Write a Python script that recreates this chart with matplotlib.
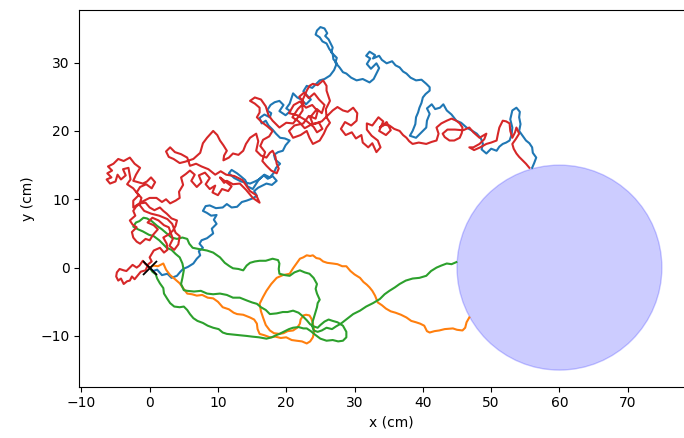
import numpy as np
import matplotlib
matplotlib.use("Agg")
import matplotlib.pyplot as plt

# target disc
circle_center = (60, 0)
circle_radius = 15

# hand-traced trajectories (x, y) in cm
blue_path = np.array([
    [0, 0], [0.5, -0.5], [1.1, -0.3], [1.8, -1.1], [2.6, -0.9], [3.2, -1.5], [4.0, -1.2], [4.5, -0.6],
    [4.9, -0.2], [5.6, 0.1], [6.4, 0.6], [6.9, 1.3], [7.4, 1.8], [7.2, 2.4], [7.8, 2.9], [7.3, 3.5],
    [7.6, 4.0], [8.4, 4.3], [9.3, 5.0], [9.1, 5.7], [9.8, 6.4], [9.4, 7.0], [9.8, 7.7], [9.0, 7.6],
    [8.4, 8.0], [7.8, 8.3], [8.2, 9.0], [8.8, 9.1], [9.7, 8.7], [10.7, 8.8], [11.3, 9.3], [12.0, 8.8],
    [12.8, 8.9], [13.5, 9.6], [14.2, 9.8], [15.0, 10.1], [15.7, 10.5], [15.3, 11.2], [15.9, 11.7],
    [16.5, 12.0], [17.1, 12.3], [17.9, 12.1], [18.6, 12.7], [18.0, 13.4], [17.3, 13.0], [16.7, 13.5],
    [16.0, 12.9], [15.1, 11.5], [14.3, 11.9], [14.0, 12.8], [13.3, 13.4], [12.8, 13.8], [12.0, 14.3],
    [11.6, 13.8], [12.4, 13.1], [13.4, 12.6], [14.7, 12.3], [15.4, 12.6], [16.0, 12.9], [16.8, 13.6],
    [17.6, 13.2], [18.2, 13.9], [18.5, 14.6], [19.1, 15.2], [18.4, 15.8], [18.2, 16.5], [18.8, 16.9],
    [19.5, 17.1], [19.9, 17.9], [20.5, 18.6], [19.8, 18.9], [19.1, 19.0], [18.5, 19.6], [18.0, 20.2],
    [17.4, 20.8], [17.0, 21.5], [16.4, 21.1], [16.1, 21.9], [16.8, 22.4], [17.6, 22.0], [17.8, 22.6],
    [17.2, 23.0], [17.7, 23.8], [18.3, 24.2], [19.0, 24.4], [19.6, 23.8], [19.0, 22.9], [19.9, 22.3],
    [20.6, 22.9], [20.0, 23.3], [20.5, 24.0], [21.0, 25.5], [21.6, 24.9], [22.2, 24.6], [22.9, 23.9],
    [23.6, 24.6], [22.5, 25.8], [23.0, 26.6], [23.8, 26.3], [24.9, 27.4], [25.6, 27.6], [26.4, 28.1],
    [27.0, 28.9], [27.4, 29.9], [26.9, 30.5], [26.8, 31.3], [26.3, 32.0], [25.9, 32.8], [25.3, 33.1],
    [24.9, 33.7], [24.3, 34.1], [24.5, 34.7], [25.0, 35.2], [25.6, 35.0], [26.0, 34.3], [25.7, 33.9],
    [26.2, 33.4], [26.8, 32.2], [26.6, 31.5], [27.4, 30.7], [27.2, 30.0], [27.8, 29.3], [28.3, 28.6],
    [28.8, 28.4], [29.5, 27.8], [30.3, 27.4], [31.2, 27.6], [32.2, 27.1], [32.8, 27.6], [33.2, 28.4],
    [33.6, 29.2], [33.2, 29.9], [32.4, 29.1], [31.8, 29.8], [32.3, 30.6], [31.7, 31.0], [32.2, 31.6],
    [33.0, 31.1], [32.7, 30.6], [33.6, 31.0], [34.0, 30.4], [34.7, 29.9], [35.5, 30.2], [36.0, 29.6],
    [36.6, 29.3], [37.1, 28.7], [37.6, 28.4], [38.2, 27.8], [39.0, 27.4], [39.8, 27.5], [40.5, 26.9],
    [41.0, 26.4], [41.0, 25.9], [40.4, 25.4], [40.0, 24.9], [39.8, 24.1], [39.5, 23.4], [39.3, 22.7],
    [39.0, 22.0], [38.9, 21.0], [38.5, 20.0], [38.1, 19.3], [39.0, 19.0], [39.6, 19.6], [40.5, 20.5],
    [40.6, 21.5], [41.0, 22.5], [40.6, 23.3], [41.3, 23.9], [41.8, 23.2], [42.5, 23.4], [43.0, 23.9],
    [43.5, 23.0], [44.2, 22.4], [44.9, 21.5], [45.6, 21.2], [46.4, 20.5], [47.1, 20.1], [47.9, 19.6],
    [48.5, 18.9], [48.8, 18.1], [48.6, 17.3], [49.3, 16.7], [50.0, 17.4], [50.8, 17.1], [51.2, 17.7],
    [51.7, 18.1], [52.2, 18.3], [52.7, 18.6], [53.0, 19.5], [53.1, 20.5], [52.8, 21.7], [53.1, 23.0],
    [53.7, 23.4], [54.2, 22.8], [54.1, 22.0], [54.3, 21.0], [54.1, 20.0], [54.6, 19.3], [55.1, 18.6],
    [55.6, 18.2], [56.0, 17.6], [56.1, 16.8], [56.6, 16.1], [56.3, 15.3], [56.0, 14.6],
])

orange_path = np.array([
    [0, 0], [0.6, 0.3], [1.2, 0.2], [2.0, 0.6], [2.4, -0.3], [3.0, -1.1], [3.6, -1.6], [4.4, -2.3],
    [4.9, -3.0], [5.5, -3.8], [6.2, -3.9], [6.9, -4.1], [7.7, -4.0], [8.5, -4.4], [9.3, -4.5],
    [10.0, -5.0], [10.7, -5.8], [11.6, -6.1], [12.3, -6.6], [12.8, -6.8], [13.7, -6.9], [14.7, -7.3],
    [15.3, -7.6], [15.7, -8.2], [15.8, -9.0], [16.1, -9.7], [16.8, -9.9], [17.6, -10.2], [18.4, -10.1],
    [19.2, -10.3], [20.0, -10.2], [20.8, -10.6], [21.5, -10.7], [22.3, -10.8], [23.0, -11.1],
    [23.5, -10.8], [23.9, -10.2], [24.1, -9.3], [23.9, -8.2], [23.7, -7.5], [23.4, -7.0], [22.9, -6.9],
    [22.5, -7.0], [22.1, -7.6], [22.0, -8.2], [21.6, -8.8], [21.0, -9.2], [20.2, -9.3], [19.6, -9.6],
    [19.0, -9.7], [18.2, -9.6], [17.6, -9.2], [17.0, -8.4], [16.6, -7.3], [16.3, -6.4], [16.1, -5.3],
    [16.6, -4.3], [17.1, -3.4], [17.8, -2.4], [18.6, -1.5], [19.5, -1.1], [20.5, -0.9], [21.0, -0.1],
    [21.5, 0.6], [22.0, 1.3], [22.5, 1.5], [23.0, 1.8], [23.5, 1.7], [23.9, 1.8], [24.4, 1.4],
    [24.9, 1.3], [25.4, 0.9], [26.0, 0.7], [26.8, 0.6], [27.5, 0.5], [28.2, 0.2], [28.8, 0.2],
    [29.4, -0.5], [30.0, -1.0], [30.8, -1.5], [31.3, -2.1], [31.8, -2.5], [32.2, -2.9], [32.6, -3.4],
    [33.0, -4.1], [33.4, -5.1], [34.0, -5.5], [34.6, -6.0], [35.3, -6.4], [36.0, -6.6], [36.8, -6.9],
    [37.6, -7.3], [38.3, -7.8], [39.0, -8.0], [39.6, -8.2], [40.2, -8.5], [40.6, -9.3], [41.0, -9.5],
    [41.7, -9.3], [42.4, -9.2], [43.2, -9.0], [44.4, -8.9], [45.0, -9.1], [45.8, -9.2], [46.2, -8.8],
    [46.4, -8.0], [46.8, -7.3],
])

green_path = np.array([
    [0, 0], [0.4, -0.6], [0.9, -1.0], [1.1, -1.6], [1.5, -2.3], [2.0, -3.0], [2.1, -3.8], [2.6, -4.6],
    [3.0, -5.2], [3.6, -5.7], [4.4, -5.8], [5.0, -5.7], [5.5, -6.2], [5.9, -6.8], [6.4, -7.4],
    [7.0, -7.8], [7.8, -8.1], [8.5, -8.5], [9.3, -8.8], [10.1, -9.0], [10.7, -9.5], [11.3, -9.7],
    [12.2, -9.8], [13.2, -9.9], [14.2, -10.0], [15.0, -10.1], [16.0, -10.2], [17.1, -10.4],
    [17.9, -10.2], [18.5, -9.9], [19.0, -9.7], [19.8, -9.3], [20.4, -9.0], [21.0, -8.8], [21.8, -8.7],
    [22.5, -8.9], [23.0, -8.9], [23.6, -9.3], [24.2, -9.8], [25.0, -10.4], [25.9, -10.7], [26.8, -10.6],
    [27.6, -10.8], [28.3, -10.7], [28.8, -10.2], [28.8, -9.4], [28.3, -8.5], [27.5, -8.0], [26.8, -7.8],
    [26.2, -7.6], [25.6, -7.9], [25.0, -8.4], [24.6, -8.8], [24.0, -8.6], [23.5, -8.3], [23.0, -7.7],
    [22.4, -7.1], [21.8, -6.6], [21.0, -6.3], [20.2, -6.5], [19.5, -6.5], [18.6, -6.7], [17.6, -6.8],
    [17.0, -6.2], [16.3, -5.8], [15.7, -5.3], [15.0, -5.1], [14.2, -4.8], [13.2, -4.4], [12.2, -4.4],
    [11.3, -4.0], [10.3, -3.8], [9.3, -3.9], [8.4, -3.8], [7.5, -3.4], [6.5, -3.5], [5.5, -3.4],
    [5.0, -3.3], [4.6, -2.4], [4.8, -1.5], [5.0, -0.4], [4.8, 0.6], [4.4, 1.5], [3.8, 2.0], [3.2, 2.6],
    [2.5, 2.9], [2.0, 3.4], [1.4, 4.0], [0.6, 4.6], [-0.1, 4.8], [-1.0, 5.3], [-1.7, 5.6], [-2.4, 6.0],
    [-2.0, 6.6], [-1.5, 6.8], [-0.9, 7.3], [-0.4, 7.2], [0.3, 6.8], [1.1, 6.1], [1.8, 5.6], [2.5, 5.0],
    [3.2, 4.4], [4.0, 4.2], [4.8, 4.4], [5.5, 4.2], [5.8, 3.5], [6.3, 2.9], [7.3, 2.7], [8.4, 2.5],
    [9.3, 2.2], [10.3, 1.5], [11.0, 0.7], [11.7, 0.2], [12.2, -0.1], [13.0, -0.2], [13.7, -0.4],
    [14.2, 0.3], [14.7, 0.7], [15.4, 0.9], [16.1, 1.0], [17.0, 1.0], [18.0, 1.3], [18.8, 1.1],
    [19.0, 0.6], [18.9, -0.2], [19.0, -0.9], [19.8, -1.1], [20.5, -1.2], [21.2, -0.7], [22.0, -0.4],
    [22.7, -0.7], [23.4, -0.9], [24.0, -1.5], [24.5, -2.4], [24.3, -3.1], [24.5, -3.8], [24.9, -4.7],
    [24.6, -5.2], [24.5, -5.8], [24.2, -6.8], [23.9, -7.8], [23.8, -8.5], [24.0, -9.2], [24.6, -9.4],
    [25.2, -9.2], [25.9, -8.8], [26.7, -9.0], [27.3, -8.6], [28.0, -8.2], [28.9, -7.5], [29.8, -6.8],
    [30.8, -6.3], [31.7, -5.7], [32.7, -5.2], [33.7, -4.6], [34.4, -3.9], [35.1, -3.4], [35.9, -2.9],
    [36.6, -2.4], [37.5, -1.9], [38.5, -1.6], [39.5, -1.5], [40.5, -1.2], [41.2, -0.5], [42.0, 0.0],
    [42.7, 0.3], [43.5, 0.6], [44.2, 0.5], [44.9, 0.8],
])

red_path = np.array([
    [0, 0], [-0.6, 0.5], [-1.0, 1.0], [-1.5, 0.3], [-1.9, 0.0], [-2.5, 0.4], [-2.9, 0.0], [-3.4, -0.5],
    [-3.8, -0.4], [-4.4, -0.2], [-4.8, -0.7], [-4.9, -1.3], [-4.6, -1.9], [-4.2, -1.6], [-3.8, -2.4],
    [-3.3, -2.0], [-2.9, -1.9], [-2.6, -1.3], [-2.2, -1.7], [-1.8, -1.2], [-1.3, -0.6], [-0.6, -0.4],
    [-0.2, 0.5], [0.3, 0.9], [0.0, 1.5], [0.6, 2.5], [1.5, 2.9], [2.1, 2.2], [2.6, 2.6], [2.5, 3.5],
    [2.0, 4.4], [2.7, 4.8], [3.4, 5.4], [3.8, 6.1], [4.0, 6.9], [3.2, 7.2], [2.5, 7.9], [2.0, 8.3],
    [1.5, 8.8], [0.7, 8.4], [0.0, 8.8], [-0.6, 9.5], [-1.4, 9.4], [-2.0, 8.9], [-2.4, 8.3], [-2.1, 7.6],
    [-2.9, 6.9], [-2.5, 6.3], [-1.9, 5.9], [-2.6, 5.2], [-2.4, 4.4], [-1.9, 3.8], [-1.4, 3.5],
    [-0.6, 4.2], [0.0, 4.0], [0.5, 4.8], [1.2, 5.6], [0.6, 6.2], [-0.3, 6.6], [0.4, 7.3], [1.3, 6.9],
    [2.1, 6.2], [2.8, 5.9], [3.4, 4.2], [2.9, 3.2], [3.6, 2.6], [4.2, 3.4], [4.4, 4.6], [3.8, 5.1],
    [3.3, 6.4], [2.6, 7.1], [1.4, 7.6], [0.2, 7.9], [-0.8, 8.3], [-1.5, 9.2], [-1.2, 10.2], [-1.9, 11.0],
    [-1.4, 11.8], [-0.5, 12.2], [0.3, 11.6], [0.8, 12.5], [0.2, 13.2], [-0.4, 12.6], [-1.0, 12.3],
    [-2.4, 12.7], [-2.0, 13.6], [-1.4, 14.6], [-2.2, 15.2], [-2.9, 16.1], [-3.8, 15.6], [-4.6, 15.9],
    [-5.3, 15.2], [-6.1, 14.8], [-5.5, 14.2], [-6.2, 13.8], [-5.6, 13.2], [-6.3, 12.9], [-5.8, 12.3],
    [-5.0, 12.6], [-4.7, 13.6], [-4.2, 12.9], [-3.5, 13.5], [-3.9, 14.4], [-3.1, 14.6], [-2.8, 12.9],
    [-3.3, 12.2], [-2.4, 11.6], [-1.6, 10.6], [-2.4, 9.8], [-2.4, 8.8], [-1.2, 9.6], [0.0, 10.2],
    [1.0, 10.2], [1.8, 9.6], [2.4, 10.0], [3.0, 9.4], [3.8, 9.8], [4.4, 10.2], [4.3, 11.1], [4.9, 12.1],
    [4.6, 13.2], [5.3, 13.7], [5.9, 14.2], [6.6, 13.6], [6.1, 12.7], [6.9, 11.8], [7.6, 12.5],
    [7.2, 13.5], [8.1, 13.9], [8.8, 13.1], [8.2, 12.2], [8.8, 11.5], [9.6, 12.0], [9.2, 11.0],
    [10.0, 10.6], [10.6, 11.5], [11.5, 11.2], [12.0, 11.9], [10.3, 13.2], [10.9, 12.4], [11.3, 12.7],
    [12.2, 12.2], [13.2, 12.3], [14.1, 11.4], [15.1, 10.2], [16.1, 9.5], [15.6, 10.6], [14.7, 11.2],
    [13.6, 12.8], [12.4, 13.4], [11.2, 13.6], [10.4, 14.1], [9.6, 13.6], [8.6, 14.4], [7.6, 14.8],
    [6.8, 15.2], [5.9, 14.9], [5.5, 16.1], [4.6, 16.6], [3.7, 16.9], [3.0, 17.6], [2.4, 17.0],
    [2.8, 16.2], [3.5, 15.9], [4.4, 15.3], [5.2, 15.5], [6.4, 15.9], [7.4, 16.8], [7.8, 18.2],
    [8.4, 19.0], [9.3, 20.0], [9.9, 19.4], [10.3, 18.6], [10.8, 17.9], [11.3, 17.1], [10.9, 16.4],
    [10.8, 15.7], [11.6, 16.1], [12.2, 16.7], [13.0, 16.5], [13.7, 17.1], [14.1, 18.1], [14.7, 19.0],
    [15.6, 19.6], [15.9, 18.5], [15.6, 17.1], [16.3, 16.4], [17.1, 16.1], [17.6, 16.8], [18.0, 17.1],
    [18.4, 16.3], [18.6, 15.2], [18.9, 14.5], [18.6, 13.8], [17.8, 14.2], [17.1, 14.9], [16.5, 15.6],
    [16.9, 16.9], [16.2, 17.8], [16.6, 18.7], [17.5, 19.2], [18.0, 20.0], [17.2, 20.7], [16.4, 21.3],
    [15.7, 22.0], [16.1, 22.7], [16.1, 23.4], [15.4, 24.0], [14.7, 24.4], [15.4, 24.9], [16.3, 24.6],
    [17.0, 23.6], [17.4, 22.3], [18.0, 21.5], [19.0, 20.5], [20.0, 21.2], [21.0, 21.1], [21.8, 22.1],
    [22.4, 23.0], [22.3, 24.3], [23.0, 25.9], [23.4, 26.6], [23.9, 26.9], [24.6, 26.7], [25.4, 27.4],
    [25.9, 26.6], [25.9, 25.9], [26.4, 24.4], [25.8, 23.2], [25.9, 22.0], [26.4, 21.2], [25.9, 20.5],
    [25.5, 19.6], [24.9, 18.6], [23.9, 18.1], [23.4, 19.0], [23.0, 20.0], [22.1, 19.4], [21.0, 19.0],
    [20.4, 20.0], [21.2, 20.8], [22.5, 21.1], [23.3, 22.2], [24.3, 21.8], [24.6, 22.9], [23.8, 23.8],
    [22.9, 23.4], [22.0, 24.3], [21.1, 23.8], [20.4, 22.6], [21.6, 22.3], [22.8, 21.6], [24.0, 20.6],
    [24.5, 19.8], [25.3, 20.3], [24.8, 21.2], [23.9, 21.0], [23.5, 22.0], [24.5, 23.2], [25.2, 22.6],
    [25.6, 23.8], [24.8, 24.6], [24.1, 25.5], [23.3, 24.8], [22.6, 25.6], [21.9, 25.0], [22.6, 24.1],
    [21.7, 23.2], [20.9, 22.0], [21.8, 21.4], [22.7, 20.4], [23.6, 20.9], [25.2, 21.4], [26.8, 23.0],
    [27.5, 23.5], [28.3, 23.0], [29.0, 22.8], [29.8, 23.4], [30.4, 22.6], [30.3, 21.5], [29.5, 20.8],
    [28.6, 21.3], [28.0, 20.3], [28.7, 19.4], [29.6, 19.8], [30.2, 18.9], [31.0, 19.4], [31.2, 18.3],
    [32.0, 17.6], [32.6, 18.2], [33.2, 16.9], [33.8, 17.6], [33.4, 18.6], [32.5, 19.3], [31.8, 20.2],
    [31.8, 21.1], [32.6, 20.8], [33.5, 22.0], [34.2, 21.4], [33.6, 20.0], [34.6, 19.4], [35.3, 20.1],
    [34.7, 21.3], [33.7, 20.5], [34.4, 20.9], [35.1, 20.8], [35.8, 20.3], [36.6, 20.0], [37.1, 19.4],
    [37.6, 19.0], [38.0, 18.5], [38.5, 18.1], [39.4, 18.3], [40.5, 18.1], [41.3, 18.4], [42.0, 18.6],
    [42.3, 19.6], [42.0, 20.5], [42.7, 21.1], [43.5, 21.5], [44.2, 21.8], [44.9, 21.5], [45.4, 21.1],
    [45.8, 20.5], [45.7, 19.7], [45.4, 19.0], [44.6, 18.6], [43.9, 18.6], [43.2, 19.1], [42.9, 19.6],
    [43.6, 20.2], [44.7, 20.2], [45.9, 20.1], [46.8, 20.5], [47.4, 19.8], [48.3, 19.0], [49.3, 19.6],
    [49.0, 18.8], [48.3, 18.1], [47.4, 17.6], [46.8, 17.6], [47.5, 17.2], [48.4, 17.6], [49.3, 18.1],
    [50.0, 18.3], [50.8, 18.6], [51.0, 19.6], [51.2, 20.5], [51.7, 21.5], [52.2, 21.4], [52.7, 21.1],
    [52.8, 20.0], [53.1, 19.0], [53.5, 19.8], [53.7, 20.5], [54.1, 19.6], [53.6, 18.8], [53.1, 18.1],
    [53.3, 17.4], [53.7, 16.7], [54.1, 16.2], [54.6, 15.7], [55.1, 15.2], [55.6, 14.6],
])

start_point = (0, 0)


def main():
    fig = plt.figure(figsize=(6.84, 4.38), dpi=100)
    ax = fig.add_axes([79.3 / 684, 51.5 / 438, 625 / 684, 376.5 / 438])

    for path in (blue_path, orange_path, green_path, red_path):
        ax.plot(path[:, 0], path[:, 1], lw=1.5)

    ax.add_patch(plt.Circle(circle_center, circle_radius, color="b", alpha=0.2))
    ax.plot(*start_point, "kx", markersize=10, markeredgewidth=1.3)

    # keep 6.83 px per cm on both axes
    ax.set_xlim(-10.3, -10.3 + 625 / 6.83)
    ax.set_ylim(-17.4, 37.7)
    ax.set_xticks(np.arange(-10, 71, 10))
    ax.set_yticks(np.arange(-10, 31, 10))
    ax.set_xlabel("x (cm)")
    ax.set_ylabel("y (cm)")

    fig.savefig("out.png", dpi=100)
    plt.close(fig)


if __name__ == "__main__":
    main()
